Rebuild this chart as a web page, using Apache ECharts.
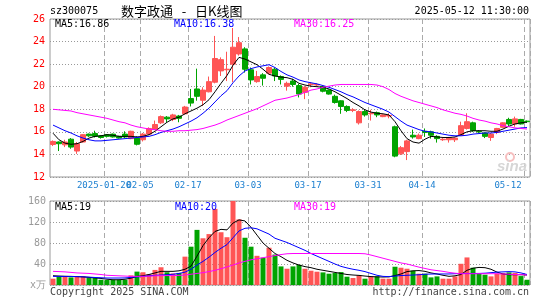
<!DOCTYPE html>
<html>
<head>
<meta charset="utf-8">
<script src="https://cdn.jsdelivr.net/npm/echarts@6/dist/echarts.min.js"></script>
<style>html,body{margin:0;padding:0;background:#fff;}</style>
</head>
<body>

<div id="main" style="width: 545px;height:300px;"></div>

<script type="text/javascript">
    // 交易日
    var dates = ['2025-01-07','2025-01-08','2025-01-09','2025-01-10','2025-01-13','2025-01-14','2025-01-15','2025-01-16','2025-01-17','2025-01-20',
        '2025-01-21','2025-01-22','2025-01-23','2025-01-24','2025-01-27','2025-02-05','2025-02-06','2025-02-07','2025-02-10','2025-02-11',
        '2025-02-12','2025-02-13','2025-02-14','2025-02-17','2025-02-18','2025-02-19','2025-02-20','2025-02-21','2025-02-24','2025-02-25',
        '2025-02-26','2025-02-27','2025-02-28','2025-03-03','2025-03-04','2025-03-05','2025-03-06','2025-03-07','2025-03-10','2025-03-11',
        '2025-03-12','2025-03-13','2025-03-14','2025-03-17','2025-03-18','2025-03-19','2025-03-20','2025-03-21','2025-03-24','2025-03-25',
        '2025-03-26','2025-03-27','2025-03-28','2025-03-31','2025-04-01','2025-04-02','2025-04-03','2025-04-07','2025-04-08','2025-04-09',
        '2025-04-10','2025-04-11','2025-04-14','2025-04-15','2025-04-16','2025-04-17','2025-04-18','2025-04-21','2025-04-22','2025-04-23',
        '2025-04-24','2025-04-25','2025-04-28','2025-04-29','2025-04-30','2025-05-06','2025-05-07','2025-05-08','2025-05-09','2025-05-12'];

    // x轴刻度
    var tickDates = ['2025-01-20','2025-02-05','2025-02-17','2025-03-03','2025-03-17','2025-03-31','2025-04-14','2025-05-12'];
    var tickLabels = ['2025-01-20','02-05','02-17','03-03','03-17','03-31','04-14','05-12'];

    // K线 开 收 低 高
    var openP = [14.88,15.1,14.85,15.35,14.3,15.1,15.8,15.85,15.65,15.75,
        15.8,15.6,15.8,15.4,15.45,15.3,15.8,16.2,16.8,17.3,
        17.1,17.4,17.6,18.95,19.8,18.8,19.55,20.4,21.4,21.5,
        22.0,22.9,23.35,21.5,20.45,21.05,21.2,21.55,20.9,20.05,
        20.5,20.1,19.5,20.2,20.15,20.0,19.7,19.15,18.75,18.25,
        17.9,16.8,17.8,17.6,17.7,17.35,17.4,16.45,14.05,14.25,
        15.7,15.4,16.05,16.0,15.6,15.3,15.3,15.3,15.7,16.3,
        16.8,16.05,15.9,15.5,15.95,16.4,17.1,16.7,17.1,16.95];
    var closeP = [15.15,14.95,15.1,14.65,14.95,15.75,15.65,15.6,15.5,15.6,
        15.55,15.45,15.55,16.05,14.9,15.8,16.3,16.65,17.35,17.15,
        17.5,17.2,18.2,18.55,19.15,19.7,20.45,22.5,22.4,21.55,
        23.5,23.9,21.55,20.6,20.9,20.75,21.7,20.95,20.65,20.3,
        20.2,19.35,19.95,20.25,20.2,19.6,19.35,18.6,18.25,17.9,
        17.95,17.8,17.5,17.65,17.5,17.5,17.45,13.85,14.6,15.2,
        15.55,15.7,15.95,15.7,15.4,15.35,15.5,15.45,16.55,16.9,
        16.1,16.0,15.6,15.8,16.3,16.8,16.7,17.15,16.7,16.9];
    var lowP = [14.74,14.3,14.65,14.5,14.05,15.05,15.55,15.5,15.4,15.5,
        15.5,15.4,15.45,15.35,14.8,15.15,15.7,16.15,16.7,16.85,
        16.95,16.85,17.55,18.25,18.76,18.3,19.5,20.3,20.95,20.5,
        20.4,22.75,21.25,20.2,20.35,20.1,21.1,20.5,20.2,19.65,
        20.0,19.05,18.9,19.95,20.05,19.5,19.3,18.5,17.6,17.75,
        17.75,16.65,17.35,17.0,17.3,17.3,17.2,13.75,13.95,13.5,
        15.4,15.35,15.55,15.4,15.05,15.2,15.05,15.1,15.65,16.2,
        16.0,15.9,15.45,15.2,15.8,16.35,16.5,16.45,16.65,16.8];
    var highP = [15.24,15.15,15.3,15.45,15.1,15.8,15.85,16.1,15.7,15.8,
        15.85,15.65,16.05,16.1,15.6,15.9,16.4,17.0,17.45,17.4,
        17.6,17.5,18.3,19.8,21.6,19.95,20.9,24.5,22.6,23.1,
        25.2,24.4,23.5,21.7,21.4,21.2,21.8,21.7,21.0,20.45,
        20.7,20.25,20.05,20.4,20.3,20.1,19.75,19.3,18.8,18.35,
        18.1,17.9,17.95,17.95,17.8,17.55,17.65,16.55,14.75,15.3,
        16.2,15.85,16.3,16.1,15.7,15.45,15.55,15.5,16.9,17.65,
        16.9,16.15,15.95,15.9,16.35,16.85,17.25,17.35,17.15,17.0];

    // 均线
    var ma5 = [15.88,15.3,15.0,14.9,14.95,15.15,15.45,15.6,15.65,15.75,
        15.7,15.6,15.6,15.6,15.55,15.6,15.75,16.05,16.45,16.85,
        17.15,17.3,17.6,17.85,18.1,18.4,18.85,19.55,20.3,21.0,
        21.9,22.6,22.45,22.2,21.95,21.55,21.1,20.95,20.85,20.8,
        20.65,20.3,20.15,20.05,20.0,19.95,19.8,19.55,19.25,18.95,
        18.6,18.3,17.95,17.75,17.65,17.6,17.5,16.9,16.1,15.4,
        15.1,15.0,15.35,15.6,15.55,15.5,15.5,15.55,15.75,16.0,
        16.1,16.1,16.1,16.05,16.05,16.25,16.5,16.7,16.8,16.86];
    var ma10 = [16.6,16.35,16.1,15.9,15.65,15.45,15.3,15.2,15.2,15.25,
        15.3,15.35,15.4,15.45,15.5,15.55,15.6,15.75,15.95,16.1,
        16.25,16.45,16.7,16.95,17.25,17.65,18.1,18.65,19.2,19.65,
        20.35,20.95,21.4,21.6,21.75,21.85,21.95,21.7,21.35,21.05,
        20.85,20.6,20.45,20.35,20.25,20.1,19.95,19.75,19.55,19.3,
        19.1,18.85,18.6,18.4,18.2,18.0,17.75,17.35,16.95,16.6,
        16.4,16.2,16.05,16.0,15.9,15.8,15.7,15.65,15.65,15.7,
        15.8,15.85,15.9,15.9,15.95,16.05,16.15,16.25,16.35,16.38];
    var ma30 = [18.0,17.95,17.9,17.85,17.7,17.6,17.5,17.4,17.3,17.2,
        17.05,16.9,16.8,16.6,16.45,16.35,16.25,16.2,16.1,16.05,
        16.05,16.1,16.1,16.15,16.2,16.3,16.45,16.6,16.8,17.05,
        17.25,17.45,17.65,17.85,18.05,18.3,18.55,18.8,18.9,19.0,
        19.15,19.3,19.5,19.7,19.8,19.95,20.05,20.15,20.2,20.2,
        20.2,20.2,20.2,20.2,20.15,20.0,19.75,19.4,19.15,18.95,
        18.75,18.6,18.45,18.3,18.15,17.95,17.8,17.65,17.55,17.4,
        17.2,17.05,16.95,16.8,16.7,16.55,16.45,16.35,16.3,16.25];

    // 成交量(万手)
    var volume = [12,15.8,15.8,14.5,16.4,16.4,14.5,13.3,10,9.5,
        10,10,10,18.3,25.5,24.3,20.5,28.7,33.8,24.3,
        22,23,54,73,105,89,97,145,100.5,91,
        160,125,90,73,55.6,52,71,58,35.4,31,
        35.4,38.5,31,27.2,25.3,24,21.5,22.8,24.6,15.8,
        13.3,18.3,12,16.4,16.4,12,12,34.8,32.9,31,
        27.2,21.5,21.5,14.5,16.4,12,12,16.4,40.4,52.5,
        32.9,21.5,19.6,16.4,21.5,22.5,24,23,17,10];
    var volMa5 = [17.7,17,16.5,16.4,16,15.5,14.5,13.5,12.5,11,
        10,10,11,13,16.4,17.7,20,23,26,26,
        26,27,30,36,55,75,90,102,106,105,
        118,124,122,110,95,80,70,60,54,47,
        42,38,35,33,30,28,26,24,22,20,
        19,18.3,17,16,15.5,15.2,15.5,18,21,25.5,
        27,27.5,26,23,21,18.5,16.5,17.5,20,28,
        32,33.5,33,30,24.5,21,19.6,19.6,19.6,19];
    var volMa10 = [16.4,16.4,16.4,16.2,16,15.5,15,14.3,13.8,13.3,
        13.3,13.3,13.5,14.5,15.5,16.5,17.5,18.5,19,19.6,
        20.5,22,24.5,30,38,45,53,62,70,77,
        90,103,108,109,107,102,97,89,85,81,
        76,71,66,60,55,50,45,40,35.5,32.5,
        30,28,25.5,22,18.5,16.4,16,17,18,18.5,
        19,19.5,20.5,20.9,21,21,21,21.5,22,22,
        22,22,22.5,23.5,24.5,25,25.5,25,23,20];
    var volMa30 = [26,25.5,25,24,23,22.5,22,21,20,18.5,
        18,17.5,17,16.5,16.5,16.5,16.8,17.5,17.8,18,
        18,18.3,19,20.5,22,23.5,25.5,28,31,34.5,
        38,42,45,48,50,52,54,56,58,59.5,
        60,60,60,60,60,60,60,60,60,60,
        60,60,59.5,57,54,51,48,45,42,40,
        37,34,31.5,29,27.5,26,24,22.5,21.5,21.5,
        21.5,21.5,21.5,21.5,21.5,21,20.5,20,19.8,19];

    var UP = '#ff5555';
    var DOWN = '#00a400';
    var MONO = 'DejaVu Sans Mono';
    var XCOLOR = '#1e80d0';

    var myChart = echarts.init(document.getElementById('main'));

    var kData = dates.map(function (d, i) {
        return [openP[i], closeP[i], lowP[i], highP[i]];
    });
    var volData = volume.map(function (v, i) {
        return {value: v, itemStyle: {color: closeP[i] >= openP[i] ? UP : DOWN}};
    });

    function isTick(index, value) {
        return tickDates.indexOf(value) >= 0;
    }
    // 第一个刻度标签与02-05重叠, 放在单独的轴上避免被隐藏
    function isFirstTick(index, value) {
        return value === tickDates[0];
    }
    function isOtherTick(index, value) {
        return value !== tickDates[0] && tickDates.indexOf(value) >= 0;
    }

    function makeX(gridIndex, labelFilter, showSplit) {
        return {
            type: 'category',
            gridIndex: gridIndex,
            position: 'bottom',
            offset: 0,
            data: dates,
            boundaryGap: true,
            axisLine: {show: false},
            axisTick: {show: false},
            axisLabel: {
                show: !!labelFilter,
                interval: labelFilter || isTick,
                showMinLabel: true,
                showMaxLabel: true,
                hideOverlap: false,
                margin: 4,
                color: XCOLOR,
                fontFamily: MONO,
                fontSize: 9,
                formatter: function (value, index) {
                    var s = tickLabels[tickDates.indexOf(value)];
                    return (index === dates.length - 1 ? '{e|' : '{n|') + s + '}';
                },
                rich: {
                    n: {color: XCOLOR, fontFamily: MONO, fontSize: 9, padding: [0, 6, 0, 0]},
                    e: {color: XCOLOR, fontFamily: MONO, fontSize: 9, padding: [0, 38, 0, 0]}
                }
            },
            splitLine: {show: showSplit, interval: isTick, lineStyle: {color: '#aaa', width: 1, type: [5, 3]}}
        };
    }

    function maLine(name, data, color, xi, yi) {
        return {
            name: name, type: 'line', data: data, xAxisIndex: xi, yAxisIndex: yi,
            symbol: 'none', smooth: false, z: 5,
            lineStyle: {color: color, width: 1}
        };
    }

    function txt(text, x, y, color, align, font) {
        return {
            type: 'text', x: x, y: y, z: 100,
            style: {text: text, fill: color, font: font || ('10px "' + MONO + '"'),
                textAlign: align || 'left', textVerticalAlign: 'middle'}
        };
    }

    var last = dates.length - 1;

    var option = {
        animation: false,
        backgroundColor: '#fff',
        grid: [
            {left: 50, right: 15, top: 19, height: 158, show: true, borderColor: '#999', borderWidth: 1},
            {left: 50, right: 15, top: 201, height: 84, show: true, borderColor: '#999', borderWidth: 1}
        ],
        xAxis: [makeX(0, isOtherTick, true), makeX(1, null, true), makeX(0, isFirstTick, false)],
        yAxis: [
            {
                type: 'value', gridIndex: 0, min: 12, max: 26, interval: 2,
                axisLine: {show: false}, axisTick: {show: false},
                axisLabel: {color: '#ff0000', fontFamily: MONO, fontSize: 10, margin: 5},
                splitLine: {lineStyle: {color: '#999', type: [1, 2]}}
            },
            {
                type: 'value', gridIndex: 1, min: 0, max: 160, interval: 40,
                axisLine: {show: false}, axisTick: {show: false},
                axisLabel: {
                    color: '#999', fontFamily: MONO, fontSize: 10, margin: 4,
                    formatter: function (v) { return v === 0 ? 'x万' : v; }
                },
                splitLine: {lineStyle: {color: '#999', type: [1, 2]}}
            }
        ],
        series: [
            {
                name: 'K', type: 'candlestick', data: kData, xAxisIndex: 0, yAxisIndex: 0,
                barWidth: 5,
                itemStyle: {color: UP, color0: DOWN, borderColor: UP, borderColor0: DOWN, borderWidth: 1}
            },
            maLine('MA5', ma5, '#000000', 0, 0),
            maLine('MA10', ma10, '#0000ff', 0, 0),
            maLine('MA30', ma30, '#ff00ff', 0, 0),
            {name: 'VOL', type: 'bar', data: volData, xAxisIndex: 1, yAxisIndex: 1, barWidth: 5},
            maLine('VMA5', volMa5, '#000000', 1, 1),
            maLine('VMA10', volMa10, '#0000ff', 1, 1),
            maLine('VMA30', volMa30, '#ff00ff', 1, 1)
        ],
        graphic: [
            txt('sz300075', 50, 11, '#000'),
            txt('数字政通   -   日K线图', 121, 11, '#000', 'left', '13px "Noto Sans CJK SC"'),
            txt('2025-05-12 11:30:00', 529, 11, '#000', 'right'),
            txt('MA5:' + ma5[last].toFixed(2), 55, 24, '#000'),
            txt('MA10:' + ma10[last].toFixed(2), 174, 24, '#0000ff'),
            txt('MA30:' + ma30[last].toFixed(2), 294, 24, '#ff00ff'),
            txt('MA5:' + Math.round(volMa5[last]), 55, 207, '#000'),
            txt('MA10:' + Math.round(volMa10[last]), 175, 207, '#0000ff'),
            txt('MA30:' + Math.round(volMa30[last]), 294, 207, '#ff00ff'),
            txt('Copyright 2025 SINA.COM', 50, 292, '#444'),
            txt('http://finance.sina.com.cn', 529, 292, '#444', 'right'),
            {type: 'circle', shape: {cx: 510, cy: 157, r: 4}, z: 1,
                style: {fill: 'none', stroke: '#f7c0c0', lineWidth: 2}},
            txt('sina', 512, 167, '#d6d6d6', 'center', 'italic bold 15px "Liberation Sans"')
        ]
    };

    myChart.setOption(option);
</script>

</body>
</html>
